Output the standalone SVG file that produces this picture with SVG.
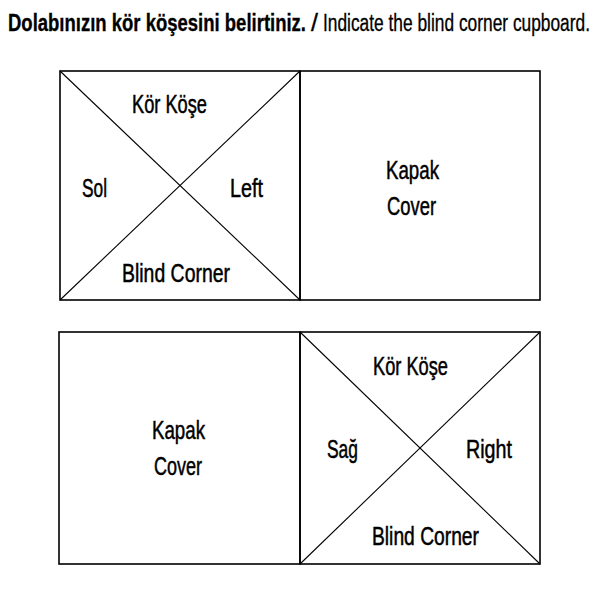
<svg xmlns="http://www.w3.org/2000/svg" width="600" height="600" viewBox="0 0 600 600">
<style>
.box{fill:none;stroke:#000;stroke-width:1.6}
.diag{stroke:#000;stroke-width:1.1}
.lbl{font-family:"Liberation Sans",Arial,sans-serif;font-size:18px;fill:#000;stroke:#000;stroke-width:0.35}
.title{font-family:"Liberation Sans",Arial,sans-serif;font-size:18px;fill:#000;stroke:#000;stroke-width:0.25}
</style>
<rect width="600" height="600" fill="#fff"/>
<g id="title">
<text class="title" transform="translate(8,31) scale(1,1.32)" font-weight="bold" textLength="298" lengthAdjust="spacingAndGlyphs">Dolabınızın kör köşesini belirtiniz.</text>
<text class="title" transform="translate(311,31) scale(1,1.32)" textLength="7" lengthAdjust="spacingAndGlyphs">/</text>
<text class="title" transform="translate(323,31) scale(1,1.32)" textLength="267" lengthAdjust="spacingAndGlyphs">Indicate the blind corner cupboard.</text>
</g>
<g id="connectors">
<line class="diag" x1="60" y1="71" x2="300" y2="300"/>
<line class="diag" x1="300" y1="71" x2="60" y2="300"/>
<line class="diag" x1="300" y1="332" x2="540" y2="564"/>
<line class="diag" x1="540" y1="332" x2="300" y2="564"/>
</g>
<g id="top-blind">
<rect class="box" x="60" y="71" width="240" height="229"/>
<text class="lbl" transform="translate(132,113) scale(1,1.42)" textLength="75" lengthAdjust="spacingAndGlyphs">Kör Köşe</text>
<text class="lbl" transform="translate(82,197) scale(1,1.42)" textLength="25" lengthAdjust="spacingAndGlyphs">Sol</text>
<text class="lbl" transform="translate(230,197) scale(1,1.42)" textLength="33" lengthAdjust="spacingAndGlyphs">Left</text>
<text class="lbl" transform="translate(122,282) scale(1,1.42)" textLength="108" lengthAdjust="spacingAndGlyphs">Blind Corner</text>
</g>
<g id="top-cover">
<rect class="box" x="300" y="71" width="240" height="229"/>
<text class="lbl" transform="translate(386,179) scale(1,1.42)" textLength="53" lengthAdjust="spacingAndGlyphs">Kapak</text>
<text class="lbl" transform="translate(387,215) scale(1,1.42)" textLength="49" lengthAdjust="spacingAndGlyphs">Cover</text>
</g>
<g id="bottom-cover">
<rect class="box" x="59" y="332" width="241" height="232"/>
<text class="lbl" transform="translate(152,439) scale(1,1.42)" textLength="53" lengthAdjust="spacingAndGlyphs">Kapak</text>
<text class="lbl" transform="translate(154,475) scale(1,1.42)" textLength="48" lengthAdjust="spacingAndGlyphs">Cover</text>
</g>
<g id="bottom-blind">
<rect class="box" x="300" y="332" width="240" height="232"/>
<text class="lbl" transform="translate(373,375) scale(1,1.42)" textLength="75" lengthAdjust="spacingAndGlyphs">Kör Köşe</text>
<text class="lbl" transform="translate(327,458) scale(1,1.42)" textLength="31" lengthAdjust="spacingAndGlyphs">Sağ</text>
<text class="lbl" transform="translate(466,458) scale(1,1.42)" textLength="46" lengthAdjust="spacingAndGlyphs">Right</text>
<text class="lbl" transform="translate(372,545) scale(1,1.42)" textLength="107" lengthAdjust="spacingAndGlyphs">Blind Corner</text>
</g>
</svg>
